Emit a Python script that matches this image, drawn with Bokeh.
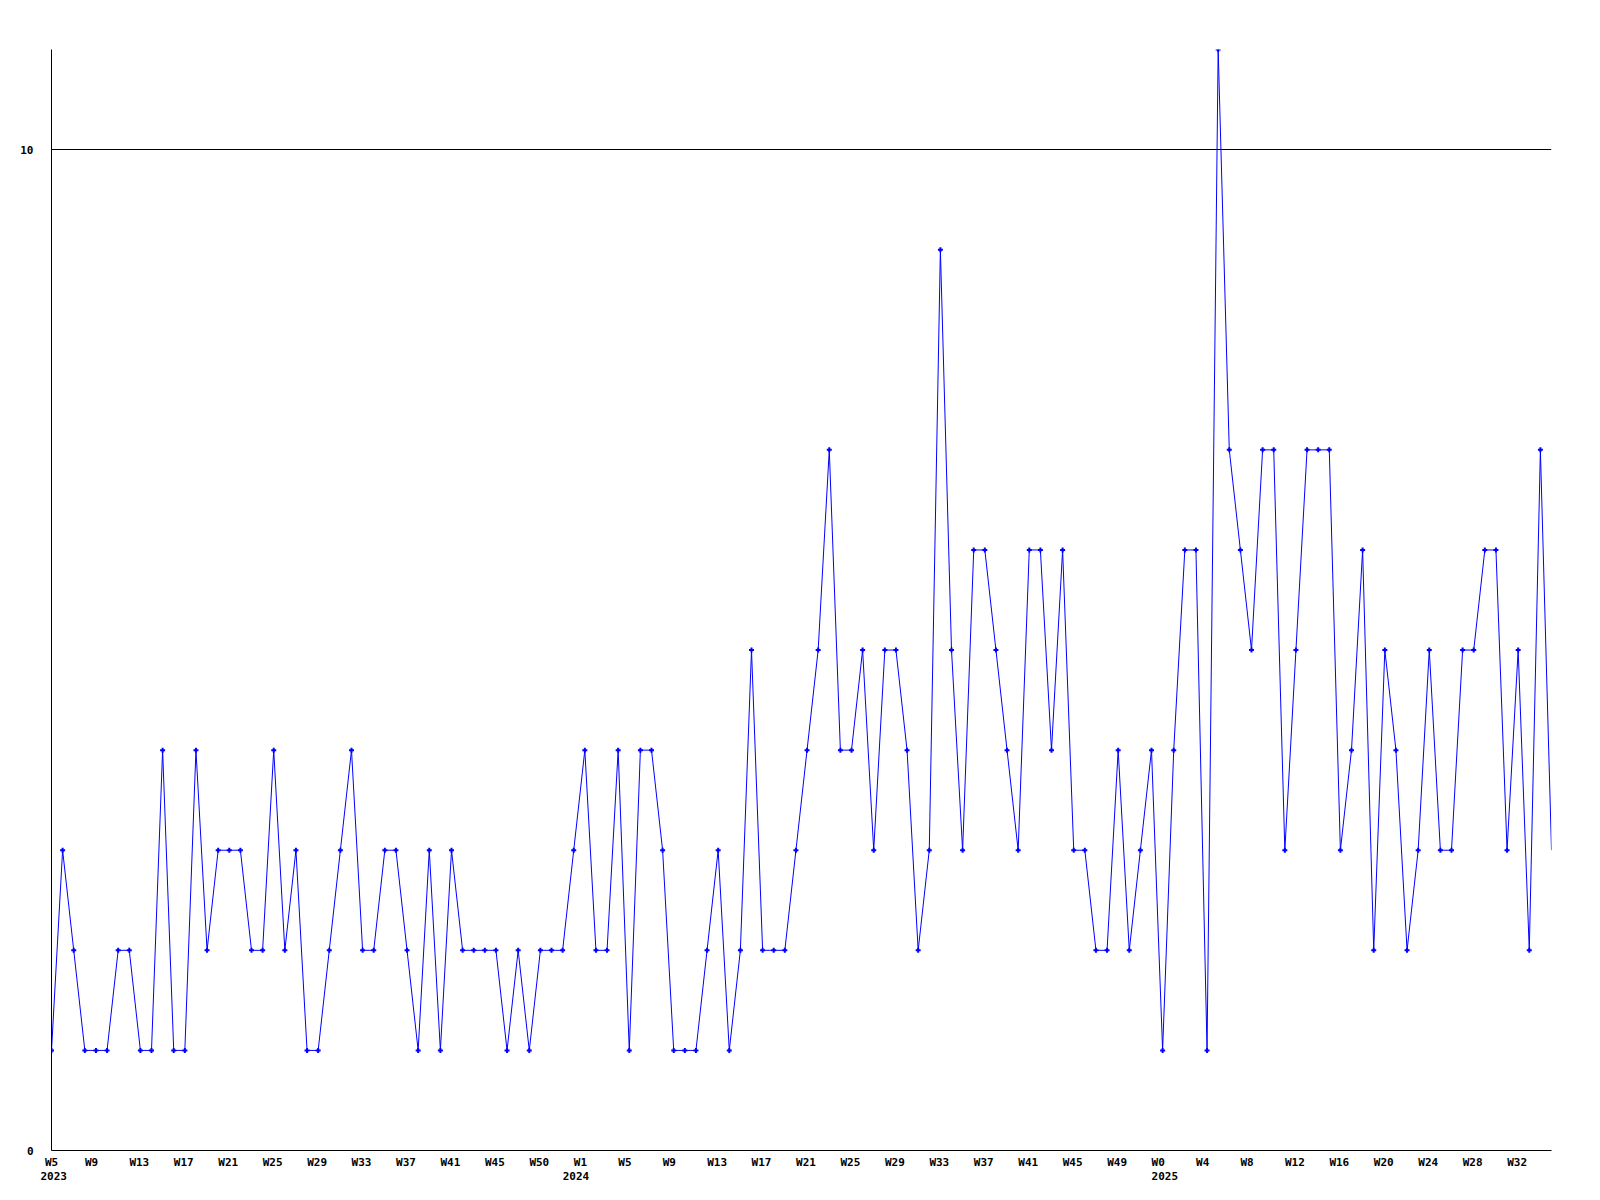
from bokeh.plotting import figure
from bokeh.models import FixedTicker, LinearAxis, Range1d
from bokeh.embed import file_html
from bokeh.resources import INLINE

# weekly counts, 2023 W5 .. 2025 W33
counts = [
    1, 3, 2, 1, 1, 1, 2, 2, 1, 1, 4, 1, 1, 4, 2, 3, 3, 3, 2, 2, 4, 2, 3, 1, 1, 2, 3, 4, 2, 2, 3, 3, 2, 1, 3,
    1, 3, 2, 2, 2, 2, 1, 2, 1, 2, 2, 2, 3, 4, 2, 2, 4, 1, 4, 4, 3, 1, 1, 1, 2, 3, 1, 2, 5, 2, 2, 2, 3,
    4, 5, 7, 4, 4, 5, 3, 5, 5, 4, 2, 3, 9, 5, 3, 6, 6, 5, 4, 3, 6, 6, 4, 6, 3, 3, 2, 2, 4, 2, 3, 4, 1, 4,
    6, 6, 1, 11, 7, 6, 5, 7, 7, 3, 5, 7, 7, 7, 3, 4, 6, 2, 5, 4, 2, 3, 5, 3, 3, 5, 5, 6, 6, 3, 5, 2, 7, 3,
]

week_tick_labels = [
    "W5", "W9", "W13", "W17", "W21", "W25", "W29", "W33", "W37", "W41", "W45", "W50",
    "W1", "W5", "W9", "W13", "W17", "W21", "W25", "W29", "W33", "W37", "W41", "W45", "W49",
    "W0", "W4", "W8", "W12", "W16", "W20", "W24", "W28", "W32",
]
label_every = 4

year_tick_labels = ["2023", "2024", "2025"]
year_tick_index = [0, 47, 100]

y_tick_values = [0, 10]
y_max = 11

# ---- layout / style ----
FRAME_W = 1500
FRAME_H = 1101
FONT = "DejaVu Sans Mono"
FONT_SIZE = "11px"
CHAR_W = 6.62
LABEL_LEFT_OFFSET = 11  # labels start ~11px left of their week

n = len(counts)
x = list(range(n))
px_per_week = FRAME_W / (n - 1)


def tick_pos(i, text):
    # labels in the original are left-aligned slightly before the point
    return round(max(0.0, i + (len(text) * CHAR_W / 2 - LABEL_LEFT_OFFSET) / px_per_week), 3)


week_idx = list(range(0, n, label_every))[: len(week_tick_labels)]
week_ticks = [tick_pos(i, t) for i, t in zip(week_idx, week_tick_labels)]
year_ticks = [tick_pos(i, t) for i, t in zip(year_tick_index, year_tick_labels)]

p = figure(
    frame_width=FRAME_W, frame_height=FRAME_H,
    x_range=Range1d(0, n - 1), y_range=Range1d(0, y_max),
    x_axis_type=None,
    output_backend="svg", toolbar_location=None,
    min_border_left=51, min_border_top=49, min_border_right=33, min_border_bottom=4,
)
p.outline_line_color = None
p.background_fill_color = "white"
p.xgrid.visible = False
p.ygrid.ticker = FixedTicker(ticks=[v for v in y_tick_values if v > 0])
p.ygrid.grid_line_color = "black"
p.ygrid.grid_line_width = 1

ya = p.yaxis[0]
ya.ticker = FixedTicker(ticks=y_tick_values)
ya.major_tick_out = 0
ya.major_tick_in = 0
ya.minor_tick_out = 0
ya.minor_tick_in = 0
ya.major_label_standoff = 18
ya.axis_line_color = "black"
ya.major_label_text_font = FONT
ya.major_label_text_font_size = FONT_SIZE
ya.major_label_text_font_style = "bold"
ya.major_label_text_color = "black"

wk_axis = LinearAxis(
    ticker=FixedTicker(ticks=week_ticks),
    major_label_overrides={t: s for t, s in zip(week_ticks, week_tick_labels)},
)
yr_axis = LinearAxis(
    ticker=FixedTicker(ticks=year_ticks),
    major_label_overrides={t: s for t, s in zip(year_ticks, year_tick_labels)},
)
for ax, standoff in ((wk_axis, 5), (yr_axis, 0)):
    ax.major_tick_out = 0
    ax.major_tick_in = 0
    ax.minor_tick_out = 0
    ax.minor_tick_in = 0
    ax.major_label_standoff = standoff
    ax.major_label_text_font = FONT
    ax.major_label_text_font_size = FONT_SIZE
    ax.major_label_text_font_style = "bold"
    ax.major_label_text_color = "black"
wk_axis.axis_line_color = "black"
yr_axis.axis_line_color = None
p.add_layout(wk_axis, "below")
p.add_layout(yr_axis, "below")

p.line(x, counts, line_color="#0000ff", line_width=1)
p.scatter(x[:-1], counts[:-1], marker="cross", size=5, line_width=2, line_color="#0000ff")

open("out.html", "w").write(file_html(p, INLINE))
